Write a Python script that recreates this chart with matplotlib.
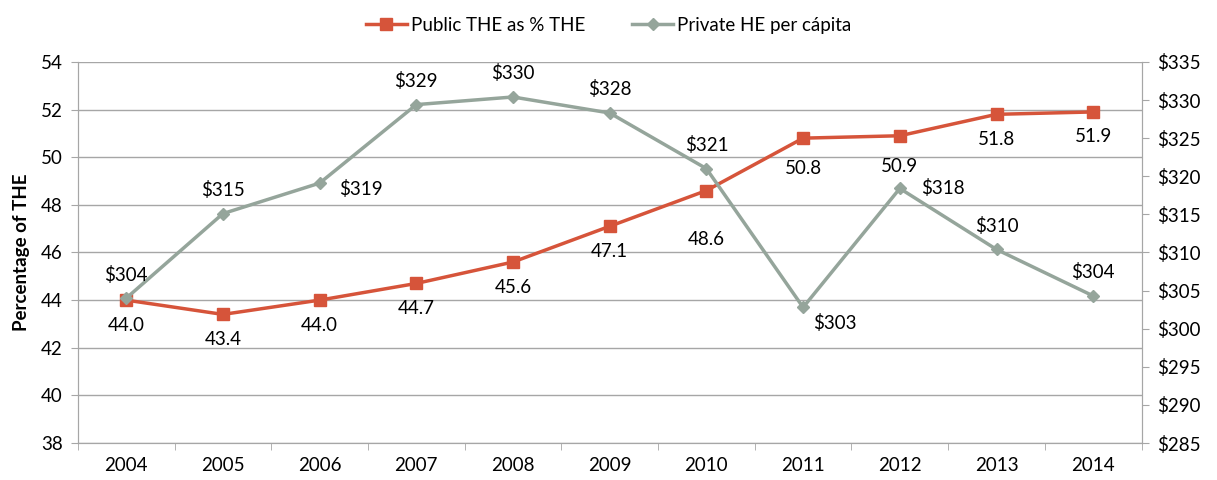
import numpy as np
import matplotlib
matplotlib.use("Agg")
import matplotlib.pyplot as plt
from matplotlib.ticker import FixedLocator, NullFormatter

plt.rcParams['font.family'] = ['Lato', 'DejaVu Sans']
plt.rcParams['font.size'] = 13.5

years = ['2004', '2005', '2006', '2007', '2008', '2009', '2010', '2011', '2012', '2013', '2014']
public_pct = [44.0, 43.4, 44.0, 44.7, 45.6, 47.1, 48.6, 50.8, 50.9, 51.8, 51.9]
private_pc = [304.0, 315.1, 319.1, 329.4, 330.4, 328.3, 321.0, 302.8, 318.4, 310.4, 304.3]

# label placement (offset in points)
public_offsets = [(0, -18), (0, -18), (0, -18), (0, -18), (0, -18), (0, -18),
                  (0, -35), (0, -22), (0, -22), (0, -18), (0, -18)]
private_offsets = [(0, 17), (0, 17), (30, -4), (0, 17), (0, 17), (0, 17),
                   (0, 17), (23, -11), (31, 0), (0, 17), (0, 17)]

red = '#D6543A'
grey = '#95A59B'
axis_grey = '#A6A6A6'

fig = plt.figure(figsize=(12.17, 4.8), dpi=100)
ax = fig.add_axes([0.064, 0.077, 0.874, 0.794])
ax2 = ax.twinx()

x = np.arange(len(years))

ax.set_ylim(38, 54)
ax.set_yticks(np.arange(38, 55, 2))
ax2.set_ylim(285, 335)
ax2.set_yticks(np.arange(285, 336, 5))
ax2.set_yticklabels(['$%d' % v for v in np.arange(285, 336, 5)])
ax.set_xlim(-0.5, len(years) - 0.5)

ax.grid(axis='y', color=axis_grey, linewidth=1)
ax.set_axisbelow(True)

l1, = ax.plot(x, public_pct, color=red, lw=2.5, marker='s', ms=8, label='Public THE as % THE', zorder=3)
l2, = ax2.plot(x, private_pc, color=grey, lw=2.5, marker='D', ms=6, label='Private HE per cápita', zorder=3)

for xi, v, off in zip(x, public_pct, public_offsets):
    ax.annotate('%.1f' % v, (xi, v), xytext=off, textcoords='offset points',
                ha='center', va='center')
for xi, v, off in zip(x, private_pc, private_offsets):
    ax2.annotate('$%.0f' % v, (xi, v), xytext=off, textcoords='offset points',
                 ha='center', va='center')

ax.set_xticks(x)
ax.set_xticklabels(years)
ax.xaxis.set_minor_locator(FixedLocator(np.arange(-0.5, len(years), 1)))
ax.xaxis.set_minor_formatter(NullFormatter())
ax.tick_params(axis='x', which='major', length=0, pad=10)
ax.tick_params(axis='x', which='minor', length=5, color=axis_grey)
ax.tick_params(axis='y', length=5, color=axis_grey, pad=6)
ax2.tick_params(axis='y', length=5, color=axis_grey, pad=6)

for a in (ax, ax2):
    a.spines['top'].set_visible(False)
    for s in ('left', 'right', 'bottom'):
        a.spines[s].set_color(axis_grey)

ax.set_ylabel('Percentage of THE', fontweight='bold', labelpad=8)

fig.legend(handles=[l1, l2], loc='upper center', bbox_to_anchor=(0.5, 1.0), ncol=2,
           frameon=False, handlelength=2.2, handletextpad=0.2, columnspacing=2.5)

fig.savefig('out.png', dpi=100)
